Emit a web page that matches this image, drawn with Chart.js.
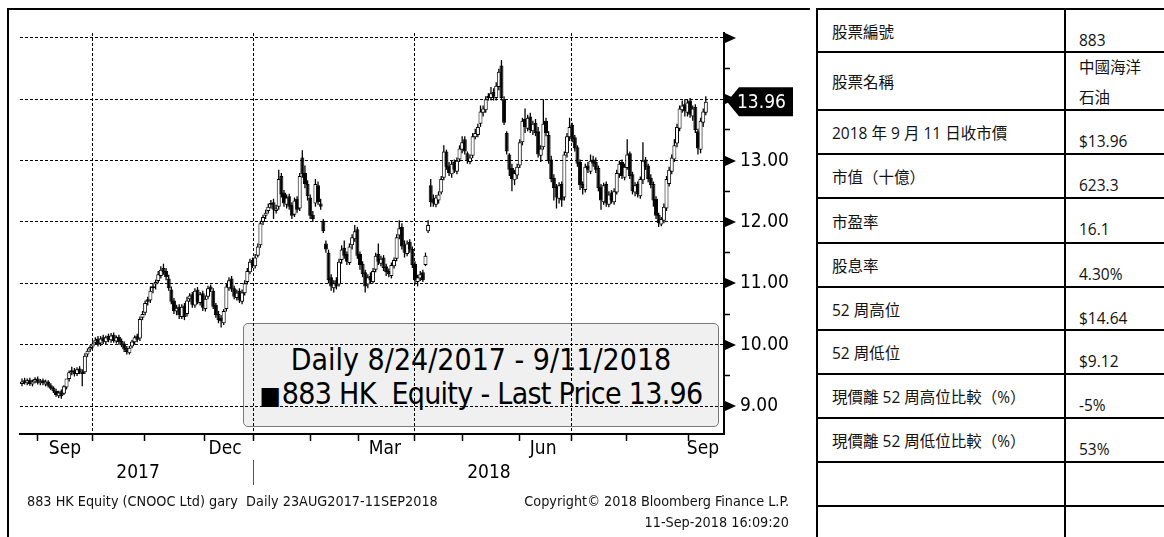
<!DOCTYPE html>
<html><head><meta charset="utf-8">
<script src="https://cdn.jsdelivr.net/npm/chart.js@4.4.1/dist/chart.umd.min.js"></script>
<style>
html,body{margin:0;padding:0;background:#fff;}
body{width:1164px;height:537px;overflow:hidden;position:relative;}
.abs{position:absolute;}
#legendBox{left:243px;top:323px;width:476px;height:104px;box-sizing:border-box;background:#f0f0f0;border:1.5px solid #7a7a7a;border-radius:5px;z-index:0;font-family:"DejaVu Sans Condensed","DejaVu Sans",sans-serif;font-size:30px;color:#000;}
#legendBox div{position:absolute;left:0;width:100%;text-align:center;line-height:34px;white-space:pre;}
#lg2{letter-spacing:-0.7px;}
#lg2 span{font-size:25px;letter-spacing:1px;}
#c{position:absolute;left:0;top:0;z-index:1;}
.foot{position:absolute;font-family:"DejaVu Sans Condensed","DejaVu Sans",sans-serif;font-size:14.3px;line-height:16px;color:#111;white-space:pre;z-index:2;}
.hl{position:absolute;left:816px;width:360px;height:2px;background:#000;}
.vl{position:absolute;top:8px;width:2px;height:540px;background:#000;}
.cell{position:absolute;font-family:"Open Sans","Noto Sans CJK TC",sans-serif;font-size:15.5px;line-height:20px;color:#111;white-space:nowrap;}
</style></head>
<body>
<div class="abs" style="left:7px;top:8px;width:803px;height:2px;background:#000;z-index:3"></div>
<div class="abs" style="left:7px;top:8px;width:2px;height:540px;background:#000;z-index:3"></div>
<div id="legendBox" class="abs"><div id="lg1" style="top:19px"></div><div id="lg2" style="top:53px"></div></div>
<canvas id="c" width="812" height="537"></canvas>
<div class="foot" style="left:27px;top:493px">883 HK Equity (CNOOC Ltd) gary  Daily 23AUG2017-11SEP2018</div>
<div class="foot" style="left:0;width:789px;text-align:right;top:493px">Copyright© 2018 Bloomberg Finance L.P.</div>
<div class="foot" style="left:0;width:789px;text-align:right;top:514px">11-Sep-2018 16:09:20</div>
<div id="table"></div>
<script>
// ---- price data (daily, 24 Aug 2017 - 11 Sep 2018) ----
const open = [
9.36,9.42,9.37,9.43,9.35,9.40,9.45,9.37,9.42,9.35,
9.40,9.34,9.30,9.25,9.16,9.24,9.20,9.30,9.44,9.55,
9.58,9.52,9.61,9.56,9.55,9.84,9.92,9.97,10.03,10.10,
10.02,10.12,10.04,10.14,10.07,10.16,10.05,10.13,10.06,10.02,
9.94,9.86,9.97,10.04,10.15,10.10,10.44,10.52,10.74,10.72,
10.92,10.98,11.04,11.12,11.25,11.20,11.08,10.90,10.72,10.54,
10.62,10.45,10.64,10.50,10.74,10.82,10.64,10.90,10.68,10.84,
10.58,10.78,10.95,10.88,10.65,10.50,10.44,10.35,10.58,10.92,
11.08,10.92,10.76,10.88,10.70,10.84,11.02,11.18,11.38,11.28,
11.45,11.62,12.00,12.10,12.18,12.28,12.32,12.18,12.25,12.75,
12.48,12.28,12.42,12.28,12.12,12.38,12.22,13.05,12.80,12.62,
12.40,12.12,12.30,12.60,12.30,12.02,11.65,11.50,11.10,10.92,
11.05,10.98,11.38,11.58,11.48,11.33,11.62,11.72,11.88,11.48,
11.32,11.18,10.98,11.12,11.02,11.22,11.48,11.32,11.42,11.28,
11.20,11.12,11.28,11.40,11.78,11.92,11.62,11.48,11.68,11.56,
11.32,11.02,11.08,11.18,11.30,11.85,12.60,12.38,12.28,12.35,
12.48,12.72,13.15,12.92,12.78,12.98,12.82,13.02,13.18,13.35,
13.12,12.98,13.08,13.38,13.42,13.60,13.78,13.82,14.02,14.02,
14.12,14.02,14.20,14.55,14.00,13.45,13.10,12.88,12.68,12.76,
12.92,13.30,13.68,13.52,13.72,13.48,13.62,13.48,13.08,13.22,
13.65,13.42,13.02,12.72,12.58,12.38,12.62,12.40,13.12,13.38,
13.58,13.38,13.22,12.98,12.62,12.52,12.92,12.82,13.02,12.98,
12.88,12.58,12.32,12.62,12.28,12.48,12.32,12.48,12.78,12.98,
12.72,12.88,13.12,12.78,12.48,12.62,12.42,12.68,13.02,12.92,
12.72,12.62,12.38,12.12,11.96,12.02,12.22,12.62,12.82,13.02,
13.28,13.52,13.82,13.92,13.78,13.98,13.72,13.88,13.48,13.18,
13.62,13.78];
const high = [
9.45,9.46,9.45,9.46,9.43,9.47,9.48,9.44,9.45,9.43,
9.42,9.37,9.32,9.28,9.25,9.27,9.34,9.40,9.58,9.64,
9.62,9.63,9.65,9.60,9.86,9.94,9.99,10.06,10.12,10.14,
10.14,10.16,10.15,10.18,10.19,10.20,10.15,10.16,10.10,10.05,
9.98,9.98,10.08,10.15,10.18,10.46,10.55,10.72,10.78,10.95,
11.00,11.06,11.20,11.28,11.32,11.25,11.14,10.95,10.76,10.65,
10.66,10.66,10.68,10.78,10.84,10.86,10.92,10.94,10.86,10.88,
10.80,10.96,10.98,10.92,10.68,10.55,10.48,10.58,11.00,11.10,
11.12,10.96,10.90,10.92,10.90,11.05,11.25,11.40,11.42,11.48,
11.65,12.02,12.12,12.20,12.30,12.36,12.38,12.28,12.85,12.80,
12.52,12.45,12.46,12.32,12.40,12.42,12.80,13.17,12.92,12.68,
12.45,12.18,12.70,12.66,12.38,12.05,11.70,11.55,11.15,11.05,
11.10,11.40,11.62,11.70,11.52,11.65,11.80,11.95,11.92,11.52,
11.36,11.22,11.15,11.18,11.25,11.50,11.65,11.45,11.46,11.32,
11.24,11.34,11.42,11.80,12.03,11.98,11.70,11.70,11.72,11.60,
11.36,11.14,11.20,11.22,11.50,12.03,12.70,12.45,12.44,12.50,
12.75,13.25,13.18,12.98,13.00,13.02,13.05,13.25,13.40,13.40,
13.15,13.10,13.45,13.52,13.60,13.90,13.90,14.05,14.10,14.20,
14.18,14.28,14.50,14.64,14.05,13.48,13.12,12.95,12.85,12.95,
13.35,13.70,13.85,13.75,13.78,13.65,13.68,13.55,13.25,14.00,
13.70,13.48,13.08,12.78,12.62,12.65,12.66,13.15,13.45,13.70,
13.62,13.42,13.25,13.02,12.66,12.95,12.98,13.10,13.08,13.05,
12.92,12.62,12.64,12.66,12.50,12.52,12.55,12.85,13.00,13.02,
12.95,13.35,13.15,12.82,12.65,12.66,12.74,13.30,13.06,12.95,
12.78,12.66,12.42,12.15,12.08,12.30,12.75,12.90,13.10,13.35,
13.60,13.90,13.98,14.00,14.00,14.02,13.90,13.92,13.52,13.70,
13.85,14.05];
const low = [
9.32,9.35,9.34,9.33,9.32,9.37,9.35,9.34,9.34,9.32,
9.30,9.26,9.21,9.15,9.13,9.12,9.18,9.27,9.40,9.50,
9.48,9.49,9.52,9.32,9.52,9.80,9.88,9.94,10.00,9.97,
9.98,10.01,10.00,10.04,10.03,10.03,10.02,10.00,9.96,9.88,
9.84,9.84,9.94,10.00,10.04,10.06,10.40,10.48,10.64,10.68,
10.84,10.90,11.00,11.08,11.14,11.05,10.88,10.66,10.50,10.48,
10.42,10.42,10.40,10.46,10.70,10.60,10.60,10.66,10.64,10.55,
10.54,10.74,10.86,10.58,10.44,10.35,10.28,10.32,10.54,10.88,
10.86,10.74,10.72,10.68,10.66,10.80,10.98,11.15,11.25,11.24,
11.42,11.58,11.95,12.05,12.14,12.22,12.05,12.14,12.20,12.40,
12.25,12.22,12.20,12.05,12.08,12.15,12.18,12.72,12.55,12.35,
12.05,12.00,12.25,12.28,12.20,11.82,11.50,11.00,10.88,10.85,
10.90,10.95,11.32,11.40,11.30,11.30,11.55,11.68,11.40,11.22,
11.10,10.85,10.92,11.00,11.00,11.18,11.30,11.28,11.20,11.12,
11.10,11.08,11.24,11.36,11.72,11.55,11.42,11.44,11.50,11.25,
10.98,10.95,11.04,11.02,11.28,11.82,12.25,12.25,12.24,12.30,
12.45,12.68,12.85,12.75,12.72,12.80,12.78,12.98,13.12,13.10,
12.95,12.94,13.04,13.35,13.38,13.55,13.72,13.78,13.98,13.98,
13.98,13.98,14.15,13.98,13.58,13.10,12.75,12.50,12.60,12.70,
12.88,13.25,13.45,13.48,13.45,13.42,13.40,13.05,12.98,13.18,
13.40,12.95,12.65,12.35,12.22,12.30,12.25,12.35,13.05,13.32,
13.30,13.15,12.90,12.52,12.45,12.48,12.80,12.78,12.90,12.80,
12.50,12.20,12.28,12.25,12.24,12.30,12.28,12.45,12.72,12.70,
12.68,12.85,12.70,12.45,12.42,12.40,12.38,12.62,12.85,12.65,
12.55,12.25,12.05,11.92,11.93,11.98,12.18,12.58,12.78,12.98,
13.22,13.48,13.78,13.72,13.72,13.70,13.65,13.45,13.10,13.12,
13.55,13.74];
const close = [
9.40,9.38,9.42,9.36,9.40,9.44,9.38,9.41,9.37,9.40,
9.33,9.28,9.24,9.18,9.22,9.16,9.32,9.45,9.55,9.58,
9.52,9.60,9.55,9.52,9.82,9.90,9.96,10.02,10.08,10.00,
10.10,10.05,10.12,10.08,10.15,10.06,10.12,10.04,10.00,9.92,
9.88,9.95,10.05,10.12,10.08,10.42,10.50,10.68,10.70,10.88,
10.95,11.02,11.15,11.22,11.18,11.10,10.92,10.70,10.55,10.60,
10.48,10.62,10.45,10.72,10.80,10.65,10.88,10.70,10.82,10.60,
10.75,10.92,10.90,10.62,10.48,10.40,10.38,10.55,10.95,11.05,
10.90,10.78,10.85,10.72,10.85,11.00,11.20,11.35,11.30,11.42,
11.60,11.98,12.08,12.15,12.25,12.30,12.20,12.22,12.70,12.45,
12.30,12.40,12.25,12.10,12.35,12.20,12.75,12.78,12.62,12.42,
12.10,12.05,12.62,12.32,12.25,11.85,11.55,11.05,10.95,11.00,
10.95,11.35,11.55,11.45,11.35,11.60,11.75,11.85,11.45,11.30,
11.15,10.95,11.10,11.05,11.20,11.45,11.35,11.40,11.25,11.18,
11.15,11.30,11.38,11.75,11.90,11.60,11.50,11.65,11.55,11.30,
11.05,11.10,11.15,11.05,11.45,11.95,12.32,12.30,12.40,12.45,
12.70,13.15,12.90,12.80,12.95,12.85,13.00,13.20,13.30,13.15,
13.00,13.05,13.40,13.45,13.55,13.80,13.85,14.00,14.05,14.10,
14.05,14.22,14.45,14.02,13.62,13.15,12.85,12.70,12.80,12.90,
13.30,13.65,13.55,13.70,13.50,13.60,13.45,13.10,13.20,13.60,
13.45,13.00,12.70,12.55,12.40,12.60,12.35,13.10,13.40,13.55,
13.35,13.20,12.95,12.60,12.55,12.90,12.85,13.00,12.95,12.85,
12.55,12.35,12.60,12.30,12.45,12.35,12.50,12.80,12.95,12.75,
12.90,13.10,12.75,12.50,12.60,12.45,12.70,13.00,12.90,12.70,
12.60,12.35,12.10,11.98,12.05,12.25,12.70,12.85,13.05,13.25,
13.55,13.85,13.90,13.80,13.95,13.75,13.85,13.50,13.20,13.65,
13.80,13.96];

// ---- axis ticks / labels ----
const monthTicks = [6.1, 27.1, 46.9, 69.5, 88.2, 110.3, 128.6, 150.0, 168.3, 189.7, 209.9, 230.9, 254.2];
const quarterTicks = [27.1, 88.2, 150.0, 209.9];
const monthLabels = ['Sep', 'Dec', 'Mar', 'Jun', 'Sep'];
const monthLabelPos = [16.4, 77.5, 138.5, 198.9, 259.9];
const yearLabels = ['2017', '2018'];
const yearLabelPos = [44.3, 178.2];
const yearBoundary = 88.2;
const priceTicks = [9, 9.5, 10, 10.5, 11, 11.5, 12, 12.5, 13, 13.5, 14, 14.5, 15];
const labeledPrices = [9, 10, 11, 12, 13];
const arrowPrices = [9, 10, 11, 12, 13, 14, 15];

// ---- legend / table text ----
const legendTitle = 'Daily 8/24/2017 - 9/11/2018';
const seriesName = '883 HK  Equity - Last Price';
const tableLabels = ['股票編號','股票名稱','2018 年 9 月 11 日收市價','市值（十億）','市盈率','股息率','52 周高位','52 周低位','現價離 52 周高位比較（%）','現價離 52 周低位比較（%）','',''];
const tableValues = ['883','中國海洋<br>石油','$13.96','623.3','16.1','4.30%','$14.64','$9.12','-5%','53%','',''];
const rowTops = [9, 52, 110, 154, 198, 243, 287, 330, 374, 418, 462, 506, 550];

const lastPrice = close[close.length - 1];
document.getElementById('lg1').textContent = legendTitle;
document.getElementById('lg2').innerHTML = '<span>\u25A0</span>' + seriesName + ' ' + lastPrice.toFixed(2);

// table
(function(){
  const t = document.getElementById('table');
  let h = '';
  rowTops.forEach(y => { h += '<div class="hl" style="top:' + (y - 1) + 'px"></div>'; });
  h += '<div class="vl" style="left:816px"></div><div class="vl" style="left:1064px"></div>';
  for (let r = 0; r < tableLabels.length; r++) {
    const top = rowTops[r], ht = rowTops[r + 1] - rowTops[r];
    h += '<div class="cell" style="left:832px;top:' + Math.round(top + (ht - 20) / 2 + 1) + 'px">' + tableLabels[r] + '</div>';
    if (tableValues[r].indexOf('<br>') >= 0) {
      h += '<div class="cell" style="left:1079px;top:' + top + 'px;line-height:30px">' + tableValues[r] + '</div>';
    } else {
      h += '<div class="cell" style="left:1079px;top:' + (top + 21) + 'px">' + tableValues[r] + '</div>';
    }
  }
  t.innerHTML = h;
})();

const FONT = '"DejaVu Sans Condensed", "DejaVu Sans", sans-serif';
const wickData = close.map((c, i) => ({x: i, y: [low[i], high[i]]}));
const bodyData = close.map((c, i) => ({x: i, y: [open[i], c]}));
const bodyColors = close.map((c, i) => c >= open[i] ? '#ffffff' : '#000000');

const XMIN = -0.76, XMAX = 267.94;

const overlay = {
  id: 'overlay',
  afterDraw(chart) {
    const {ctx, chartArea, scales} = chart;
    const y = scales.y, x = scales.x;
    const xr = chartArea.right;
    ctx.save();
    ctx.fillStyle = '#000';
    arrowPrices.forEach(v => {
      const py = Math.round(y.getPixelForValue(v));
      ctx.beginPath();
      ctx.moveTo(xr, py - 5.5);
      ctx.lineTo(xr + 12, py);
      ctx.lineTo(xr, py + 5.5);
      ctx.closePath();
      ctx.fill();
    });
    // year separator
    const sx = Math.round(x.getPixelForValue(yearBoundary)) + 0.5;
    ctx.strokeStyle = '#555';
    ctx.lineWidth = 1;
    ctx.beginPath(); ctx.moveTo(sx, 460); ctx.lineTo(sx, 485); ctx.stroke();
    // last price tag
    const py = y.getPixelForValue(lastPrice);
    ctx.fillStyle = '#000';
    ctx.beginPath();
    ctx.moveTo(xr + 3, py);
    ctx.lineTo(xr + 15, py - 14.5);
    ctx.lineTo(xr + 69, py - 14.5);
    ctx.lineTo(xr + 69, py + 14.5);
    ctx.lineTo(xr + 15, py + 14.5);
    ctx.closePath();
    ctx.fill();
    ctx.fillStyle = '#fff';
    ctx.font = '19px ' + FONT;
    ctx.textBaseline = 'middle';
    ctx.textAlign = 'left';
    ctx.fillText(lastPrice.toFixed(2), xr + 13, py + 1);
    ctx.restore();
  }
};

new Chart(document.getElementById('c'), {
  type: 'bar',
  data: {
    datasets: [
      {data: bodyData, order: 0, backgroundColor: bodyColors, borderColor: '#000', borderWidth: 1,
       borderSkipped: false, barThickness: 4, grouped: false, minBarLength: 2, inflateAmount: 0},
      {data: wickData, order: 1, backgroundColor: '#000', borderWidth: 0,
       barThickness: 1.3, grouped: false, inflateAmount: 0}
    ]
  },
  options: {
    responsive: false, animation: false, devicePixelRatio: 1,
    layout: {padding: {left: 20, top: 33, right: 0, bottom: 47}},
    plugins: {legend: {display: false}, tooltip: {enabled: false}},
    scales: {
      x: {
        type: 'linear', position: 'bottom', min: XMIN, max: XMAX, offset: false, weight: 0,
        afterBuildTicks: s => { s.ticks = monthTicks.map(v => ({value: v})); },
        afterFit: s => { s.height = 4; },
        ticks: {display: false, autoSkip: false},
        grid: {offset: false, lineWidth: 1, tickLength: 7, tickWidth: 1.5,
               color: c => (c.tick && quarterTicks.includes(c.tick.value)) ? '#000' : 'rgba(0,0,0,0)',
               tickColor: '#000'},
        border: {display: true, color: '#000', width: 2, dash: [3, 2]}
      },
      xm: {
        type: 'linear', axis: 'x', position: 'bottom', min: XMIN, max: XMAX, offset: false, weight: 1,
        afterBuildTicks: s => { s.ticks = monthLabelPos.map(v => ({value: v})); },
        afterFit: s => { s.height = 22; },
        grid: {display: false, drawTicks: false},
        border: {display: false},
        ticks: {autoSkip: false, maxRotation: 0, padding: 0, color: '#000', font: {family: FONT, size: 19},
                callback: v => { const k = monthLabelPos.indexOf(v); return k >= 0 ? monthLabels[k] : ''; }}
      },
      xy: {
        type: 'linear', axis: 'x', position: 'bottom', min: XMIN, max: XMAX, offset: false, weight: 2,
        afterBuildTicks: s => { s.ticks = yearLabelPos.map(v => ({value: v})); },
        afterFit: s => { s.height = 30; },
        grid: {display: false, drawTicks: false},
        border: {display: false},
        ticks: {autoSkip: false, maxRotation: 0, padding: 2, color: '#000', font: {family: FONT, size: 19},
                callback: v => { const k = yearLabelPos.indexOf(v); return k >= 0 ? yearLabels[k] : ''; }}
      },
      y: {
        type: 'linear', position: 'right', min: 8.5435, max: 15.0815,
        afterBuildTicks: s => { s.ticks = priceTicks.map(v => ({value: v})); },
        afterFit: s => { s.width = 88; },
        grid: {lineWidth: 1, tickLength: 6, tickWidth: 1.5,
               color: c => (c.tick && Number.isInteger(c.tick.value)) ? '#000' : 'rgba(0,0,0,0)',
               tickColor: c => (c.tick && Number.isInteger(c.tick.value)) ? 'rgba(0,0,0,0)' : '#000'},
        border: {display: true, color: '#000', width: 2, dash: [3, 2]},
        ticks: {autoSkip: false, padding: 10, color: '#000', font: {family: FONT, size: 19},
                callback: v => labeledPrices.includes(v) ? v.toFixed(2) : ''}
      }
    }
  },
  plugins: [overlay]
});
</script>
</body></html>
